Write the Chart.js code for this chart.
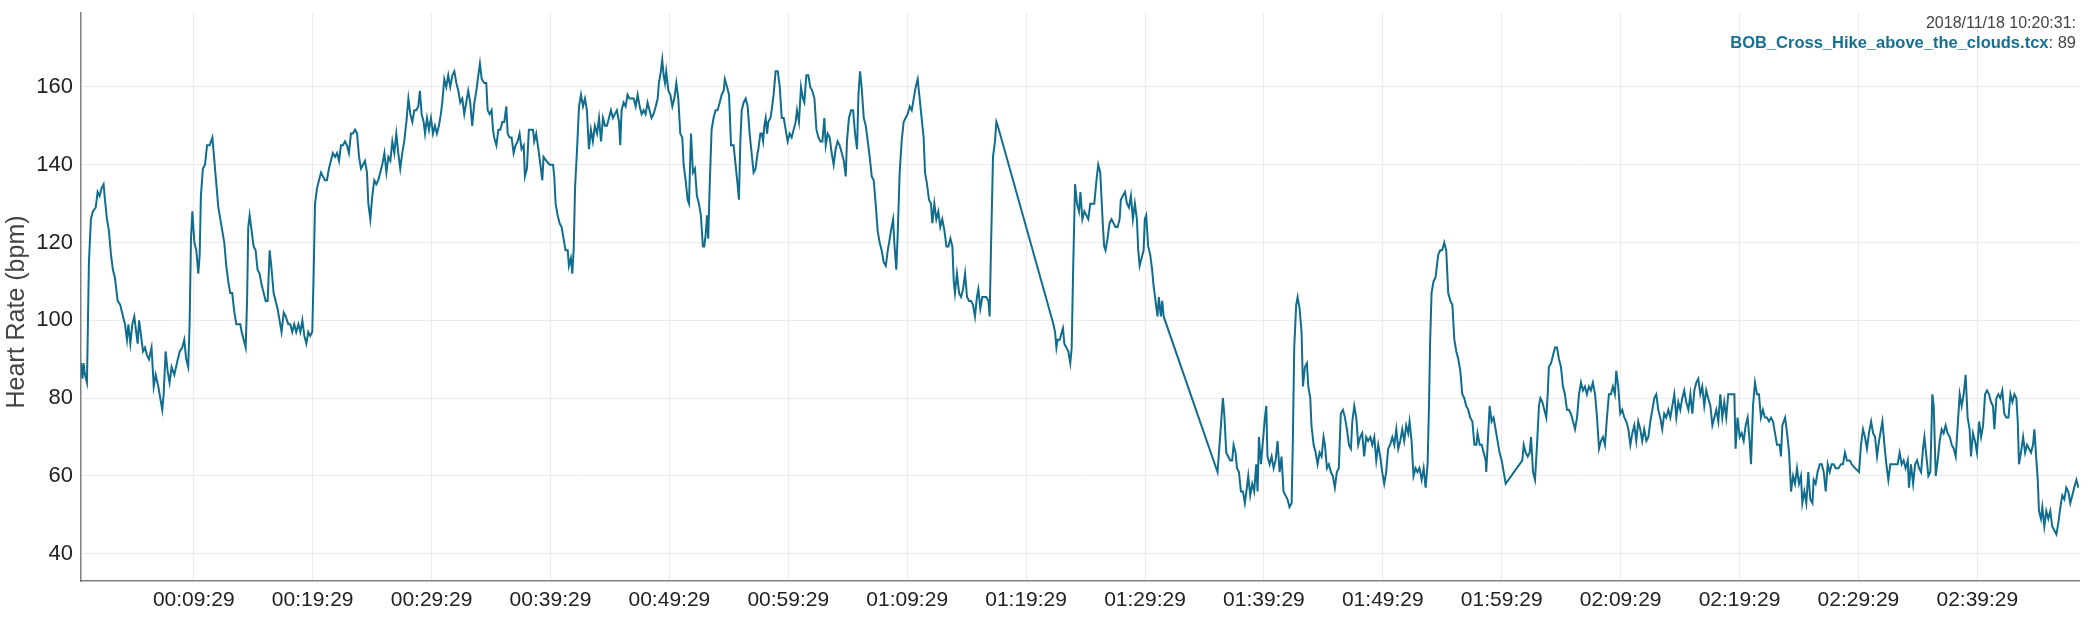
<!DOCTYPE html>
<html>
<head>
<meta charset="utf-8">
<script src="https://cdn.jsdelivr.net/npm/chart.js@4.4.0/dist/chart.umd.min.js"></script>
<style>
  html, body { margin: 0; padding: 0; background: #fff; }
  #wrap { width: 2094px; height: 625px; position: relative; }
</style>
</head>
<body>
<div id="wrap"><canvas id="hrChart"></canvas></div>
<script>
// elapsed time (s) and heart rate (bpm) of the hike
const seconds = [
  0, 7, 13, 20, 30, 34, 40, 50, 60, 74, 84, 94,
  104, 114, 121, 131, 141, 151, 161, 171, 185, 198, 212, 222,
  232, 239, 249, 259, 269, 276, 286, 293, 303, 313, 323, 333,
  343, 356, 367, 377, 390, 400, 410, 417, 427, 437, 447, 457,
  471, 484, 498, 511, 521, 531, 541, 548, 555, 562, 572, 582,
  592, 599, 605, 615, 626, 636, 649, 663, 673, 683, 693, 703,
  713, 723, 733, 743, 753, 763, 774, 784, 794, 804, 811, 821,
  831, 838, 844, 851, 861, 871, 881, 891, 901, 912, 922, 932,
  942, 952, 962, 972, 982, 992, 1002, 1012, 1023, 1033, 1046, 1056,
  1066, 1076, 1086, 1097, 1107, 1117, 1127, 1137, 1147, 1157, 1167, 1174,
  1181, 1191, 1201, 1211, 1221, 1231, 1241, 1251, 1261, 1271, 1282, 1292,
  1302, 1312, 1322, 1332, 1342, 1352, 1362, 1372, 1383, 1393, 1403, 1413,
  1423, 1433, 1443, 1450, 1460, 1470, 1480, 1490, 1500, 1510, 1520, 1531,
  1541, 1551, 1561, 1571, 1581, 1591, 1601, 1611, 1621, 1631, 1642, 1652,
  1662, 1672, 1682, 1692,
  1702, 1710, 1719, 1729, 1736, 1746, 1756, 1766, 1776, 1786, 1796, 1806,
  1816, 1823, 1833, 1843, 1853, 1863, 1874, 1884, 1894, 1904, 1914, 1924,
  1934, 1944, 1954, 1964, 1974, 1985, 1995, 2005, 2013, 2022, 2035, 2045,
  2052, 2062, 2072, 2079, 2085, 2096, 2106, 2116, 2126, 2136, 2146, 2153,
  2163, 2173, 2183, 2193, 2203, 2213, 2223, 2234, 2240, 2250, 2260, 2270,
  2281, 2287, 2297, 2308, 2318, 2328, 2334, 2348, 2365, 2382, 2388, 2395,
  2405, 2415, 2425, 2435, 2445, 2456, 2462, 2472, 2479, 2486, 2493, 2503,
  2513, 2523, 2533, 2543, 2553, 2563, 2573, 2583, 2593, 2604, 2614, 2624,
  2634, 2644, 2654, 2664, 2674, 2684, 2694, 2704, 2715, 2721, 2728, 2738,
  2748, 2758, 2768, 2778, 2789, 2799, 2809, 2819, 2829, 2839, 2849, 2859,
  2869, 2879, 2889, 2900, 2910, 2916, 2926, 2933, 2940, 2947, 2953, 2964,
  2974, 2984, 2994, 3004, 3014, 3024, 3034, 3041, 3051, 3061, 3068, 3078,
  3088, 3098, 3108, 3118, 3128, 3138, 3145, 3152, 3159, 3165, 3172, 3182,
  3192, 3202, 3212, 3223, 3233, 3243, 3249, 3260, 3270, 3280, 3293, 3303,
  3313, 3320, 3327, 3334, 3344, 3354, 3364, 3374, 3384, 3394, 3404, 3414,
  3418, 3428, 3435, 3442, 3448, 3455, 3462, 3468, 3479, 3485, 3495, 3505,
  3516, 3526, 3536, 3546, 3556, 3566, 3576, 3586, 3596, 3606, 3613, 3623,
  3633, 3643, 3650, 3660, 3670, 3680, 3690, 3701, 3711, 3721, 3731, 3741,
  3751, 3758, 3768, 3778, 3788, 3798, 3808, 3818, 3828, 3839, 3849, 3859,
  3865, 3875, 3886, 3896, 3906, 3916, 3923, 3931, 3939, 3950, 3960, 3970,
  3980, 3990, 4000, 4010, 4020, 4030, 4040, 4050, 4061, 4071, 4081, 4087,
  4098, 4104, 4114, 4121, 4131, 4141, 4151, 4161, 4171, 4182, 4192, 4202,
  4212, 4222, 4232, 4242, 4252, 4259, 4269, 4279, 4289, 4296, 4306, 4316,
  4326, 4336, 4346, 4357, 4367, 4377, 4387, 4397, 4404, 4410, 4420, 4431,
  4441, 4451, 4461, 4471, 4481, 4491, 4501, 4511, 4521, 4528, 4538, 4548,
  4558, 4568, 4579, 4585, 4592, 4602, 4612, 4619, 4626, 4907, 4915, 4922,
  4928, 4939, 4949, 4955, 4962, 4972, 4982, 4992, 4999, 5006, 5016, 5026,
  5036, 5043, 5053, 5063, 5073, 5083, 5093, 5103, 5113, 5124,
  5133, 5143, 5150, 5157, 5163, 5170, 5180, 5190, 5200, 5210, 5220, 5231,
  5241, 5247, 5257, 5268, 5278, 5288, 5298, 5308, 5318, 5328, 5335, 5342,
  5352, 5362, 5368, 5375, 5385, 5395, 5405, 5412, 5422, 5432, 5439, 5449,
  5456, 5463, 5735, 5745, 5755, 5762, 5769, 5779, 5789, 5799, 5809, 5816,
  5826, 5833, 5843, 5853, 5863, 5873, 5883, 5890, 5900, 5910, 5920, 5930,
  5937, 5944, 5954, 5964, 5974, 5981, 5987, 5998, 6008, 6018, 6028, 6038,
  6048, 6058, 6068, 6078, 6088, 6098, 6109, 6115, 6122, 6132, 6139, 6149,
  6159, 6166, 6176, 6186, 6193, 6203, 6209, 6220, 6230, 6240, 6250, 6260,
  6270, 6277, 6287, 6297, 6307, 6317, 6327, 6337, 6347, 6357, 6368, 6378,
  6388, 6398, 6408, 6415, 6425, 6435, 6445, 6455, 6465, 6475, 6485, 6495,
  6506, 6516, 6526, 6536, 6546, 6556, 6566, 6576, 6586, 6596, 6606, 6617,
  6627, 6637, 6647, 6657, 6667, 6677, 6687, 6697, 6704, 6714, 6724, 6734,
  6744, 6754, 6765, 6775, 6785, 6795, 6802, 6808, 6815, 6825, 6835, 6842,
  6849, 6859, 6869, 6879, 6889, 6899, 6910, 6920, 6930, 6940, 6950, 6960,
  6970, 6980, 6990, 7000, 7010, 7021, 7031, 7041, 7047, 7058, 7068, 7078,
  7088, 7091, 7101, 7108, 7118, 7128, 7138, 7148, 7158, 7169, 7179, 7189,
  7273, 7280, 7290, 7300, 7310, 7317, 7327, 7337, 7347, 7357, 7364, 7374,
  7384, 7394, 7401, 7407, 7418, 7428, 7438, 7448, 7458, 7468, 7478, 7488,
  7498, 7508, 7518, 7529, 7539, 7549, 7559, 7569, 7579, 7589, 7599, 7609,
  7619, 7629, 7640, 7650, 7660, 7670, 7680, 7690, 7700, 7710, 7720, 7730,
  7740, 7747, 7757, 7767, 7777, 7788, 7798, 7808, 7818, 7828, 7838, 7848,
  7858, 7868, 7878, 7888, 7899, 7909, 7919, 7929, 7939, 7949, 7959, 7969,
  7979, 7989, 7999, 8010, 8020, 8030, 8040, 8050, 8060, 8070, 8080, 8090,
  8100, 8111, 8121, 8131, 8141, 8151, 8161, 8171, 8181, 8191, 8201, 8211,
  8222, 8232, 8242, 8252, 8262, 8272, 8282, 8292, 8302, 8312, 8322, 8333,
  8343, 8349, 8359, 8370, 8380, 8390, 8400, 8410, 8420, 8427, 8437, 8447,
  8457, 8467, 8477, 8487, 8497, 8507, 8518, 8528, 8538, 8548, 8558,
  8572, 8578, 8585, 8599, 8609, 8619, 8629, 8639, 8649, 8659, 8669, 8679,
  8686, 8696, 8706, 8716, 8726, 8737, 8743, 8753, 8763, 8774, 8784, 8794,
  8804, 8814, 8824, 8834, 8844, 8854, 8868, 8881, 8891, 8901, 8911, 8925,
  8935, 8952, 8972, 8982, 8992, 9002, 9012, 9022, 9033, 9043, 9053, 9063,
  9073, 9083, 9090, 9100, 9110, 9120, 9130, 9140, 9154, 9167, 9177, 9187,
  9197, 9207, 9218, 9224, 9234, 9245, 9255, 9265, 9275, 9285, 9295, 9302,
  9312, 9322, 9332, 9342, 9349, 9359, 9369, 9379, 9389, 9399, 9409, 9419,
  9430, 9440, 9450, 9460, 9470, 9480, 9490, 9500, 9510, 9520, 9530, 9537,
  9547, 9557, 9567, 9578, 9588, 9598, 9608, 9618, 9628, 9638, 9648, 9655,
  9665, 9675, 9685, 9695, 9705, 9715, 9726, 9736, 9746, 9756, 9766, 9773,
  9779, 9789, 9800, 9810, 9820, 9830, 9840, 9850, 9857, 9867, 9874, 9880,
  9890, 9897, 9907, 9917, 9927, 9937, 9947, 9958, 9968, 9978, 9988, 9998,
  10008, 10018, 10028, 10038, 10048, 10058, 10069, 10079
];

const heartRate = [
  89, 85, 89, 86, 84, 96, 115, 126, 128, 129, 133, 132,
  134, 135, 131, 126, 123, 117, 113, 111, 105, 104, 101, 99,
  95, 99, 94, 99, 101, 98, 94, 100, 96, 92, 93, 91,
  90, 93, 83, 86, 83, 80, 77, 81, 92, 87, 84, 88,
  86, 89, 92, 93, 95, 90, 88, 99, 121, 128, 120, 118,
  112, 117, 132, 139, 140, 145, 145, 147, 141, 135, 129, 126,
  123, 120, 114, 110, 107, 107, 102, 99, 99, 99, 97, 95,
  93, 105, 124, 127, 123, 119, 118, 113, 112, 109, 107, 105,
  105, 118, 113, 107, 105, 103, 100, 97, 102, 101, 99, 99,
  97, 99, 97, 99, 97, 100, 96, 94, 97, 96, 97, 112,
  130, 134, 136, 138, 137, 136, 136, 139, 141, 143, 142, 143,
  141, 145, 145, 146, 145, 143, 148, 148, 149, 148, 142, 139,
  140, 141, 138, 130, 126, 132, 136, 135, 136, 138, 140, 143,
  138, 142, 141, 146, 143, 148, 143, 139, 143, 146, 151, 157,
  153, 151, 154, 154,
  155, 159, 153, 151, 148, 152, 149, 152, 148, 150, 148, 150,
  153, 156, 162, 160, 163, 160, 163, 164, 161, 159, 156, 157,
  153, 156, 159, 156, 150, 156, 159, 163, 166, 162, 161, 161,
  154, 153, 154, 149, 147, 145, 149, 149, 151, 151, 155, 148,
  147, 147, 143, 145, 146, 148, 144, 145, 137, 139, 149, 149,
  149, 146, 148, 144, 140, 136, 142, 141, 140, 140, 137, 130,
  127, 125, 124, 121, 118, 118, 114, 116, 112, 118, 134, 144,
  155, 158, 155, 157, 154, 144, 149, 146, 150, 148, 152, 146,
  152, 150, 150, 152, 154, 152, 153, 154, 151, 145, 154, 156,
  155, 158, 157, 157, 157, 155, 158, 155, 153, 154, 153, 156,
  154, 152, 153, 155, 157, 161, 164, 167, 163, 161, 164, 159,
  158, 155, 157, 161, 157, 148, 147, 140, 136, 131, 130, 148,
  138, 139, 132, 130, 127, 119, 119, 122, 127, 121, 134, 149,
  152, 154, 154, 156, 158, 159, 162, 160, 158, 145, 145, 140,
  135, 131, 146, 154, 156, 157, 155, 148, 143, 138, 139, 143,
  144, 148, 148, 146, 150, 152, 148, 151, 152, 154, 158, 164,
  164, 160, 152, 152, 149, 146, 148, 147, 149, 151, 154, 151,
  160, 157, 156, 163, 163, 160, 159, 157, 149, 147, 146, 146,
  152, 145, 148, 147, 143, 140, 144, 146, 145, 143, 141, 137,
  146, 152, 154, 154, 148, 144, 158, 164, 160, 152, 150, 146,
  142, 137, 136, 130, 123, 120, 118, 115, 114, 118, 121, 123,
  126, 120, 113, 122, 138, 146, 151, 152, 153, 155, 154, 157,
  160, 162, 157, 152, 147, 138, 135, 131, 130, 125, 130, 126,
  128, 124, 126, 123, 119, 119, 121, 119, 110, 107, 112, 107,
  106, 108, 112, 106, 105, 105, 104, 101, 106, 108, 103, 106,
  106, 106, 105, 101, 119, 142, 146, 151, 150, 99, 97, 93,
  95, 95, 97, 98, 94, 93, 92, 89, 93, 112, 135, 130,
  128, 133, 126, 128, 127, 126, 130, 130, 130, 136,
  140, 138, 131, 124, 119, 118, 121, 125, 126, 125, 124, 124,
  126, 131, 132, 133, 130, 129, 132, 126, 130, 126, 118, 114,
  116, 118, 126, 127, 119, 117, 113, 109, 105, 101, 106, 101,
  105, 101, 61, 68, 75, 80, 76, 66, 65, 64, 64, 68,
  66, 62, 61, 56, 56, 53, 57, 60, 55, 58, 56, 63,
  56, 70, 63, 69, 75, 78, 65, 63, 65, 62, 64, 69,
  61, 65, 56, 55, 54, 52, 53, 69, 93, 104, 106, 103,
  97, 83, 88, 89, 83, 80, 73, 68, 66, 63, 66, 65,
  70, 68, 62, 63, 61, 60, 57, 61, 62, 76, 77, 75,
  72, 68, 67, 74, 78, 75, 68, 70, 71, 65, 70, 69,
  70, 68, 70, 64, 68, 65, 61, 58, 61, 67, 68, 70,
  68, 72, 67, 69, 72, 69, 73, 71, 74, 69, 60, 62,
  61, 62, 59, 62, 57, 63, 78, 95, 107, 110, 111, 114,
  117, 118, 118, 120, 118, 107, 105, 104, 95, 92, 90, 87,
  81, 80, 78, 77, 75, 74, 68, 68, 71, 68, 68, 66,
  64, 61, 71, 78, 74, 75, 72, 69, 66, 64, 61, 58,
  64, 68, 66, 65, 66, 70, 61, 59, 68, 78, 80, 79,
  77, 75, 81, 88, 89, 91, 93, 93, 90, 88, 83, 81,
  77, 77, 76, 74, 72, 75, 81, 84, 82, 83, 81, 83,
  82, 84, 81, 75, 67, 69, 70, 68, 75, 81, 81, 83,
  81, 87, 83, 76, 77, 75, 74, 72, 68, 71, 73, 69,
  74, 72, 69, 72, 69, 70, 74, 77, 80, 81, 77, 75,
  72, 76, 75, 77, 75, 78, 81, 75, 79, 77, 80, 82,
  79, 77, 81, 76, 82, 84, 85, 81, 83, 78, 82, 80,
  78, 73, 75, 77, 74, 81, 75, 79, 75, 81, 81, 81,
  81, 67, 75, 70, 71, 69, 73, 75, 69, 63, 78, 84,
  81, 81, 75, 77, 75, 75, 74, 75, 74, 71, 68,
  68, 65, 73, 75, 71, 66, 56, 60, 58, 62, 58, 60,
  53, 56, 53, 61, 54, 53, 59, 58, 61, 63, 63, 61,
  56, 63, 61, 63, 63, 62, 62, 63, 63, 66, 64, 64,
  63, 62, 61, 68, 72, 70, 67, 71, 74, 71, 70, 65,
  69, 72, 74, 68, 63, 59, 63, 63, 63, 63, 66, 63,
  64, 62, 64, 57, 63, 58, 63, 64, 62, 61, 67, 70,
  65, 60, 61, 81, 78, 60, 64, 69, 72, 71, 73, 71,
  70, 68, 67, 65, 73, 81, 78, 81, 86, 75, 72, 65,
  71, 69, 66, 74, 70, 73, 81, 82, 81, 79, 78, 72,
  80, 81, 80, 82, 76, 75, 75, 81, 79, 81, 80, 74,
  63, 66, 70, 66, 68, 67, 66, 68, 72, 64, 59, 51,
  49, 52, 47, 51, 49, 51, 47, 46, 45, 48, 52, 55,
  54, 57, 56, 53, 55, 57, 59, 57
];

// tick positions (s) on the time axis and on the bpm axis
const xTicks = [569, 1169, 1769, 2369, 2969, 3569, 4169, 4769, 5369, 5969, 6569, 7169, 7769, 8369, 8969, 9569];
const yTicks = [40, 60, 80, 100, 120, 140, 160];

// hover readout in the top right corner
const hoverTime = '2018/11/18 10:20:31:';
const hoverFile = 'BOB_Cross_Hike_above_the_clouds.tcx';
const hoverValue = 89;

if (seconds.length !== heartRate.length) {
    throw new Error('length mismatch ' + seconds.length + ' / ' + heartRate.length);
}

const fontFamily = '"Liberation Sans", Arial, Helvetica, sans-serif';
const lineColor = '#116d8d';

function toClock(s) {
    const h = Math.floor(s / 3600);
    const m = Math.floor((s % 3600) / 60);
    const sec = Math.round(s % 60);
    return [h, m, sec].map(n => String(n).padStart(2, '0')).join(':');
}

// axis title + hover readout
const extraText = {
    id: 'extraText',
    afterDraw(chart) {
        const ctx = chart.ctx;
        ctx.save();
        ctx.translate(17, 312);
        ctx.rotate(-Math.PI / 2);
        ctx.font = '25px ' + fontFamily;
        ctx.fillStyle = '#444';
        ctx.textAlign = 'center';
        ctx.textBaseline = 'middle';
        ctx.fillText('Heart Rate (bpm)', 0, 0);
        ctx.restore();

        ctx.save();
        ctx.textAlign = 'right';
        ctx.textBaseline = 'alphabetic';
        ctx.fillStyle = '#444';
        ctx.font = '16px ' + fontFamily;
        ctx.fillText(hoverTime, 2076, 28);

        const valueText = ': ' + hoverValue;
        ctx.font = '16.5px ' + fontFamily;
        const w = ctx.measureText(valueText).width;
        ctx.fillText(valueText, 2076, 48);
        ctx.font = 'bold 16.5px ' + fontFamily;
        ctx.fillStyle = '#17708f';
        ctx.fillText(hoverFile, 2076 - w, 48);
        ctx.restore();
    }
};

const ctx = document.getElementById('hrChart').getContext('2d');
const hrChart = new Chart(ctx, {
    type: 'line',
    data: {
        datasets: [{
            label: hoverFile,
            data: seconds.map((t, i) => ({ x: t, y: heartRate[i] })),
            borderColor: lineColor,
            borderWidth: 2,
            pointRadius: 0,
            tension: 0,
            fill: false
        }]
    },
    options: {
        responsive: true,
        maintainAspectRatio: false,
        animation: false,
        layout: {
            padding: { top: 13, right: 15, left: 0, bottom: 0 }
        },
        plugins: {
            legend: { display: false },
            tooltip: { enabled: false }
        },
        scales: {
            x: {
                type: 'linear',
                min: 0,
                max: 10082,
                afterBuildTicks: (scale) => {
                    scale.ticks = xTicks.map(v => ({ value: v }));
                },
                afterFit: (scale) => {
                    scale.height = 44;
                    scale.paddingLeft = 0;
                    scale.paddingRight = 0;
                },
                grid: { color: '#ebebeb', lineWidth: 1, drawTicks: false },
                border: { color: '#808080', width: 1.5 },
                ticks: {
                    padding: 7,
                    color: '#222',
                    autoSkip: false,
                    maxRotation: 0,
                    font: { size: 21, family: fontFamily },
                    callback: (v) => toClock(v)
                }
            },
            y: {
                min: 33,
                max: 179,
                afterBuildTicks: (scale) => {
                    scale.ticks = yTicks.map(v => ({ value: v }));
                },
                afterFit: (scale) => {
                    scale.width = 81;
                    scale.paddingTop = 0;
                    scale.paddingBottom = 0;
                },
                grid: { color: '#ebebeb', lineWidth: 1, drawTicks: false },
                border: { color: '#808080', width: 1.5 },
                ticks: {
                    padding: 8,
                    color: '#222',
                    font: { size: 22, family: fontFamily }
                }
            }
        }
    },
    plugins: [extraText]
});
</script>
</body>
</html>
